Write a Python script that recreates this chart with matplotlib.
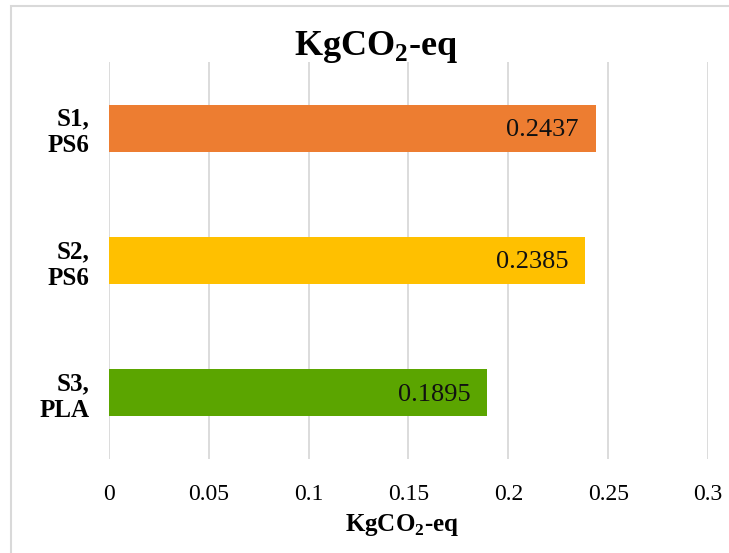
import matplotlib.pyplot as plt
from matplotlib.patches import Rectangle

# données
categories = ['S1,\nPS6', 'S2,\nPS6', 'S3,\nPLA']
valeurs = [0.2437, 0.2385, 0.1895]
couleurs = ['#ED7D31', '#FFC000', '#5BA500']
graduations = [0, 0.05, 0.1, 0.15, 0.2, 0.25, 0.3]
etiquettes_x = ['0', '0.05', '0.1', '0.15', '0.2', '0.25', '0.3']

plt.rcParams['font.family'] = ['Liberation Serif', 'DejaVu Serif']
plt.rcParams['mathtext.fontset'] = 'custom'
plt.rcParams['mathtext.rm'] = 'Liberation Serif'
plt.rcParams['mathtext.bf'] = 'Liberation Serif:bold'

fig = plt.figure(figsize=(7.29, 5.53), dpi=100)
ax = fig.add_axes([0.1495, 0.170, 0.8217, 0.7179])

# barres horizontales (S1 en haut)
pos = list(range(len(categories)))
ax.barh(pos, valeurs, height=0.355, color=couleurs, zorder=3)
for p, v in zip(pos, valeurs):
    ax.text(v - 0.0085, p + 0.015, str(v), ha='right', va='center',
            fontsize=19, color='#111111', zorder=4)

ax.set_ylim(2.5, -0.5)
ax.set_yticks(pos)
ax.set_yticklabels(categories, fontsize=18, fontweight='bold', linespacing=1.2)
ax.set_xlim(0, 0.3)
ax.set_xticks(graduations)
ax.set_xticklabels(etiquettes_x, fontsize=17)
ax.tick_params(axis='both', length=0)
ax.tick_params(axis='x', pad=18)
ax.tick_params(axis='y', pad=14)
ax.grid(axis='x', color='#D9D9D9', linewidth=1.3, zorder=0)
for s in ax.spines.values():
    s.set_visible(False)

ax.set_xlabel(r'KgCO$_{\mathbf{2}}$-eq', fontsize=18, fontweight='bold')
ax.xaxis.label.set_va('center')
ax.xaxis.set_label_coords(0.489, -0.166)
fig.text(376 / 729, 1 - 47 / 553, r'KgCO$_{\mathbf{2}}$-eq', ha='center', va='center',
         fontsize=26, fontweight='bold')

# cadre du graphique
fig.patches.append(Rectangle((11 / 729, -0.05), 1.1, 1 - 6 / 553 + 0.05,
                             transform=fig.transFigure, fill=False,
                             edgecolor='#D9D9D9', linewidth=1.5))

fig.savefig('out.png', dpi=100)
